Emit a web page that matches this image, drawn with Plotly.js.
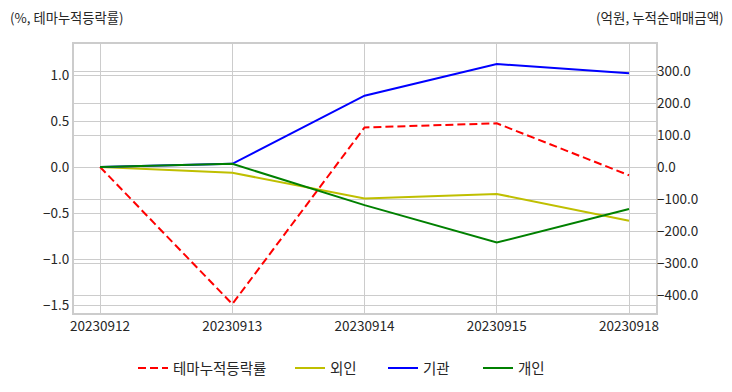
<!DOCTYPE html>
<html><head><meta charset="utf-8">
<script src="https://cdn.plot.ly/plotly-3.0.1.min.js"></script>
<style>body{margin:0;background:#fff}#c{width:732px;height:392px}</style>
</head><body><div id="c"></div>
<script>
var dates = ['20230912','20230913','20230914','20230915','20230918'];
var themeRate = [0, -1.49, 0.43, 0.475, -0.09];
var foreign = [0, -18, -98, -84, -168];
var institution = [0, 10, 223, 322, 293];
var individual = [0, 10, -119, -236, -131];
var seriesNames = ['테마누적등락률','외인','기관','개인'];

var F = '"Noto Sans CJK KR", "Noto Sans", sans-serif';
var TC = '#262626';
var traces = [
  {x: dates, y: themeRate, name: seriesNames[0], type:'scatter', mode:'lines', yaxis:'y', legend:'legend',
   line:{color:'#ff0000', width:2, dash:'8px,4px'}},
  {x: dates, y: foreign, name: seriesNames[1], type:'scatter', mode:'lines', yaxis:'y2', legend:'legend2',
   line:{color:'#bfbf00', width:2}},
  {x: dates, y: institution, name: seriesNames[2], type:'scatter', mode:'lines', yaxis:'y2', legend:'legend3',
   line:{color:'#0000ff', width:2}},
  {x: dates, y: individual, name: seriesNames[3], type:'scatter', mode:'lines', yaxis:'y2', legend:'legend4',
   line:{color:'#008000', width:2}}
];
function leg(px){
  return {orientation:'h', xref:'container', x:px/732, xanchor:'left', yref:'container', y:0.061, yanchor:'middle',
          font:{size:14.5, color:TC}, bgcolor:'rgba(0,0,0,0)'};
}
var layout = {
  width:732, height:392,
  margin:{l:74, r:76, t:44, b:79, autoexpand:false},
  paper_bgcolor:'#fff', plot_bgcolor:'#fff',
  font:{family:F, size:13, color:TC},
  showlegend:true,
  legend:leg(133), legend2:leg(290), legend3:leg(383), legend4:leg(478),
  xaxis:{type:'category', range:[-0.197, 4.204], showgrid:true, gridcolor:'#cccccc', gridwidth:1,
         showline:true, linecolor:'#cccccc', linewidth:2, mirror:true, ticks:'', tickfont:{size:13.5, color:TC},
         zeroline:false},
  yaxis:{range:[-1.587, 1.337], tickvals:[-1.5,-1,-0.5,0,0.5,1], tickformat:'.1f',
         showgrid:true, gridcolor:'#cccccc', gridwidth:1, zeroline:false,
         showline:true, linecolor:'#cccccc', linewidth:2, mirror:true, ticks:'', tickfont:{size:13.5, color:TC}},
  yaxis2:{range:[-456, 384.4], overlaying:'y', side:'right', tickvals:[-400,-300,-200,-100,0,100,200,300],
          tickformat:'.1f', showgrid:true, gridcolor:'#cccccc', gridwidth:1, zeroline:false,
          showline:false, ticks:'', tickfont:{size:13.5, color:TC}},
  annotations:[
    {text:'(%, 테마누적등락률)', xref:'paper', yref:'paper', x:-0.1134, y:1.1, xanchor:'left', yanchor:'middle',
     showarrow:false, font:{size:13.3, color:TC}},
    {text:'(억원, 누적순매매금액)', xref:'paper', yref:'paper', x:1.121, y:1.1, xanchor:'right', yanchor:'middle',
     showarrow:false, font:{size:13.5, color:TC}}
  ]
};
Plotly.newPlot('c', traces, layout, {displayModeBar:false, staticPlot:true});
</script></body></html>
